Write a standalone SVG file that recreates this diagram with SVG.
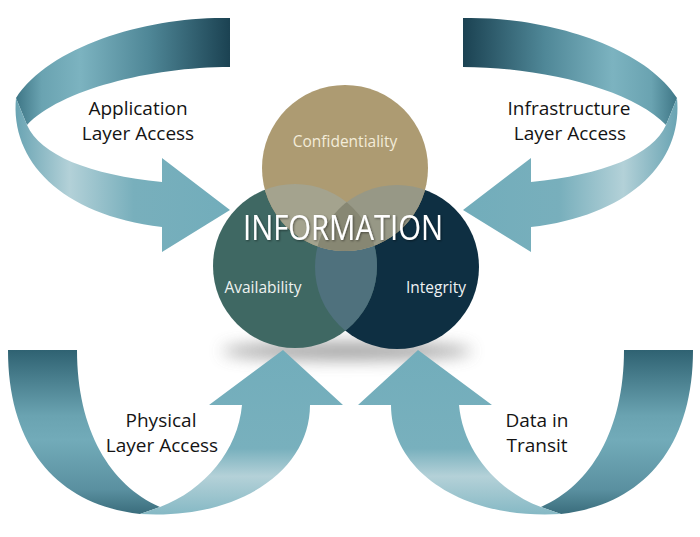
<svg xmlns="http://www.w3.org/2000/svg" width="700" height="537" viewBox="0 0 700 537">
<style>
.lbl{font-family:"Open Sans","Noto Sans","Liberation Sans",sans-serif;font-size:19px;fill:#141414;text-anchor:middle}
.clbl{font-family:"Open Sans","Noto Sans","Liberation Sans",sans-serif;font-size:15.5px;text-anchor:middle}
.info{font-family:"Open Sans","Noto Sans","Liberation Sans",sans-serif;font-size:34px;fill:#ffffff;text-anchor:middle}
</style>
<defs>
<linearGradient id="gTopBand" gradientUnits="userSpaceOnUse" x1="16" y1="0" x2="230" y2="0">
<stop offset="0" stop-color="#3e7686"/>
<stop offset="0.12" stop-color="#6aa3b1"/>
<stop offset="0.3" stop-color="#7cb3c0"/>
<stop offset="0.62" stop-color="#4f8797"/>
<stop offset="1" stop-color="#1b4252"/>
</linearGradient>
<linearGradient id="gLowBand" gradientUnits="userSpaceOnUse" x1="16" y1="0" x2="230" y2="0">
<stop offset="0" stop-color="#6aa4b3"/>
<stop offset="0.25" stop-color="#b3d1d8"/>
<stop offset="0.55" stop-color="#78afbc"/>
<stop offset="1" stop-color="#72adbb"/>
</linearGradient>
<linearGradient id="gDark" gradientUnits="userSpaceOnUse" x1="0" y1="350" x2="0" y2="514">
<stop offset="0" stop-color="#2f6272"/>
<stop offset="0.4" stop-color="#6aa3b1"/>
<stop offset="0.55" stop-color="#72abb9"/>
<stop offset="0.85" stop-color="#5a90a0"/>
<stop offset="1" stop-color="#3a6d7c"/>
</linearGradient>
<linearGradient id="gLight" gradientUnits="userSpaceOnUse" x1="0" y1="350" x2="0" y2="514">
<stop offset="0" stop-color="#72adbb"/>
<stop offset="0.6" stop-color="#78b0bd"/>
<stop offset="0.77" stop-color="#b4d1d8"/>
<stop offset="1" stop-color="#86b9c5"/>
</linearGradient>
<filter id="blur" x="-30%" y="-200%" width="160%" height="500%"><feGaussianBlur stdDeviation="8"/></filter>
<filter id="tshadow" x="-10%" y="-30%" width="120%" height="160%"><feDropShadow dx="1" dy="1" stdDeviation="1" flood-color="#000" flood-opacity="0.45"/></filter>
<clipPath id="clipA"><circle cx="295" cy="266" r="82"/></clipPath>
<clipPath id="clipI"><circle cx="397" cy="267" r="82"/></clipPath>
<g id="arrowTop">
<path fill="url(#gTopBand)" d="M230,18 C150,16 50,45 16,98 L27,125 C60,90 150,67 230,67 Z"/>
<path fill="url(#gLowBand)" d="M16,98 C10,160 60,215 162,227 L162,252 L230,210 L162,158 L162,182 C90,175 40,155 27,125 Z"/>
</g>
<g id="arrowBottom">
<path fill="url(#gDark)" d="M8,350 L77,350 C77,430 110,485 160,507 L140,514 C60,505 8,450 8,350 Z"/>
<path fill="url(#gLight)" d="M140,514 C240,520 310,470 310,405 L343,405 L283,350 L209,405 L242,405 C238,450 205,490 160,507 Z"/>
</g>
</defs>
<rect width="700" height="537" fill="#ffffff"/>
<ellipse cx="347" cy="351" rx="125" ry="9" fill="#8c8c8c" opacity="0.8" filter="url(#blur)"/>
<g id="connectors">
<use href="#arrowTop"/>
<use href="#arrowTop" transform="translate(693,0) scale(-1,1)"/>
<use href="#arrowBottom"/>
<use href="#arrowBottom" transform="translate(701,0) scale(-1,1)"/>
</g>
<g id="label-application"><text class="lbl" x="138" y="115">Application</text><text class="lbl" x="138" y="140">Layer Access</text></g>
<g id="label-infrastructure"><text class="lbl" x="569" y="115">Infrastructure</text><text class="lbl" x="570" y="140">Layer Access</text></g>
<g id="label-physical"><text class="lbl" x="161" y="427">Physical</text><text class="lbl" x="162" y="452">Layer Access</text></g>
<g id="label-transit"><text class="lbl" x="537" y="427">Data in</text><text class="lbl" x="537" y="452">Transit</text></g>
<g id="integrity"><circle cx="397" cy="267" r="82" fill="#0e2f42"/></g>
<g id="availability"><circle cx="295" cy="266" r="82" fill="#3f6863"/></g>
<g id="confidentiality"><circle cx="345" cy="168" r="83" fill="#ad9b72"/></g>
<g id="overlaps">
<circle cx="295" cy="266" r="82" fill="#4f717d" clip-path="url(#clipI)"/>
<circle cx="345" cy="168" r="83" fill="#a4a38e" clip-path="url(#clipA)"/>
<circle cx="345" cy="168" r="83" fill="#979886" clip-path="url(#clipI)"/>
<g clip-path="url(#clipI)"><circle cx="345" cy="168" r="83" fill="#878773" clip-path="url(#clipA)"/></g>
</g>
<g id="circle-labels">
<text class="clbl" x="345" y="147" fill="#f3ecd9">Confidentiality</text>
<text class="clbl" x="263" y="293" fill="#eef2f0">Availability</text>
<text class="clbl" x="436" y="293" fill="#eef2f4">Integrity</text>
</g>
<g id="information"><text class="info" x="343" y="240" textLength="200" lengthAdjust="spacingAndGlyphs" filter="url(#tshadow)">INFORMATION</text></g>
</svg>
